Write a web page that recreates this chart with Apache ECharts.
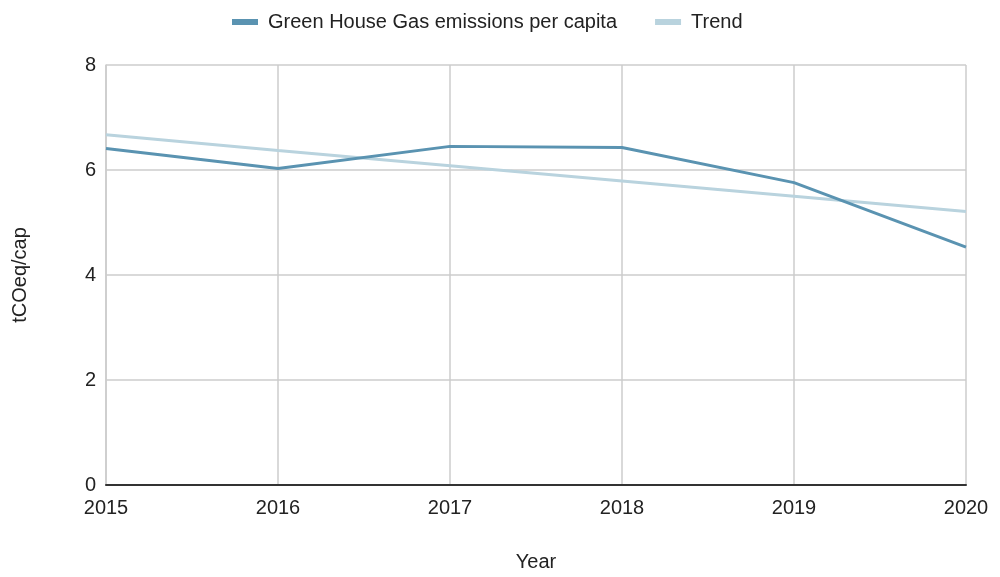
<!DOCTYPE html>
<html>
<head>
<meta charset="utf-8">
<script src="https://cdn.jsdelivr.net/npm/echarts@6/dist/echarts.min.js"></script>
<style>html,body{margin:0;padding:0;background:#fff;}#c{width:1000px;height:577px;}</style>
</head>
<body>
<div id="c"></div>
<script>
const years = ['2015', '2016', '2017', '2018', '2019', '2020'];
const emissions = [6.41, 6.03, 6.45, 6.43, 5.76, 4.53];
const trend = [6.67, 6.37, 6.08, 5.79, 5.50, 5.21];
const yTicks = [0, 2, 4, 6, 8];

const chart = echarts.init(document.getElementById('c'));
const font = 'Liberation Sans, Arial, sans-serif';
chart.setOption({
  animation: false,
  textStyle: { fontFamily: font },
  legend: {
    top: 7, left: 227, itemGap: 38,
    icon: 'rect', itemWidth: 26, itemHeight: 6,
    textStyle: { fontSize: 20, color: '#222', fontFamily: font, padding: [0, 0, 0, 5] },
    data: ['Green House Gas emissions per capita', 'Trend']
  },
  grid: { left: 106, right: 34, top: 65, bottom: 90, containLabel: false },
  xAxis: {
    type: 'category', data: years, boundaryGap: false,
    name: 'Year', nameLocation: 'middle', nameGap: 67,
    nameTextStyle: { fontSize: 20, color: '#222', fontFamily: font },
    axisLine: { lineStyle: { color: '#333', width: 2 } },
    axisTick: { show: false },
    axisLabel: { fontSize: 20, color: '#222', margin: 13, fontFamily: font },
    splitLine: { show: true, lineStyle: { color: '#cccccc', width: 1.5 } }
  },
  yAxis: {
    type: 'value', min: yTicks[0], max: yTicks[yTicks.length - 1], interval: 2,
    name: 'tCOeq/cap', nameLocation: 'middle', nameGap: 76, nameRotate: 90,
    nameTextStyle: { fontSize: 20, color: '#222', fontFamily: font },
    axisLine: { show: true, lineStyle: { color: '#cccccc', width: 1.5 } },
    axisTick: { show: false },
    axisLabel: { fontSize: 20, color: '#222', margin: 10, fontFamily: font },
    splitLine: { show: true, lineStyle: { color: '#cccccc', width: 1.5 } }
  },
  series: [
    {
      name: 'Green House Gas emissions per capita', type: 'line', data: emissions,
      symbol: 'none', lineStyle: { color: '#5a93b1', width: 3 },
      itemStyle: { color: '#5a93b1' }, z: 3
    },
    {
      name: 'Trend', type: 'line', data: trend,
      symbol: 'none', lineStyle: { color: '#b9d3de', width: 3 },
      itemStyle: { color: '#b9d3de' }, z: 2
    }
  ]
});
</script>
</body>
</html>
